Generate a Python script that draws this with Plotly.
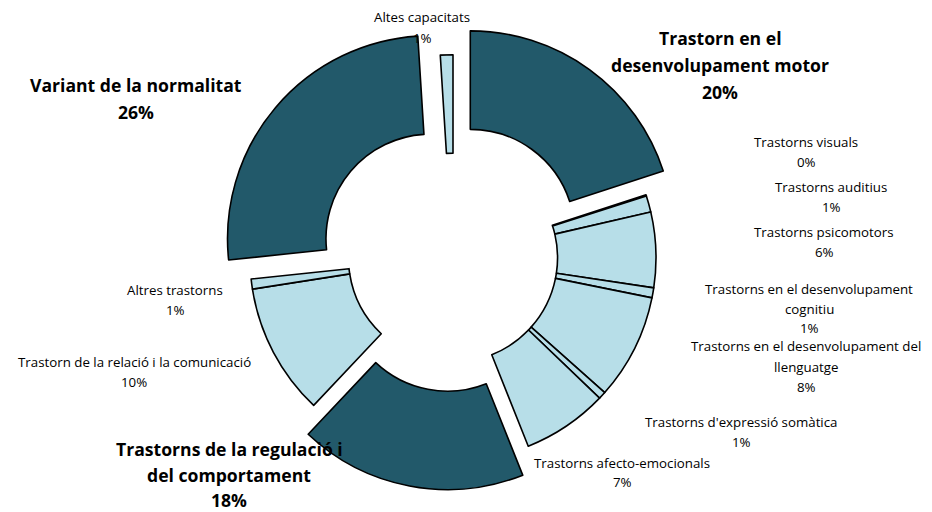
import plotly.graph_objects as go

# ---- data ----
labels = [
    "Trastorn en el desenvolupament motor",
    "Trastorns visuals",
    "Trastorns auditius",
    "Trastorns psicomotors",
    "Trastorns en el desenvolupament cognitiu",
    "Trastorns en el desenvolupament del llenguatge",
    "Trastorns d'expressió somàtica",
    "Trastorns afecto-emocionals",
    "Trastorns de la regulació i del comportament",
    "Trastorn de la relació i la comunicació",
    "Altres trastorns",
    "Variant de la normalitat",
    "Altes capacitats",
]
values = [20.0, 0.1, 1.3, 6.0, 0.8, 8.4, 0.6, 6.8, 18.1, 10.5, 0.8, 25.7, 1.0]
highlight = [True, False, False, False, False, False, False, False, True, False, False, True, False]

# label text lines (as wrapped in the reference)
label_lines = [
    ["Trastorn en el", "desenvolupament motor"],
    ["Trastorns visuals"],
    ["Trastorns auditius"],
    ["Trastorns psicomotors"],
    ["Trastorns en el desenvolupament", "cognitiu"],
    ["Trastorns en el desenvolupament del", "llenguatge"],
    ["Trastorns d'expressió somàtica"],
    ["Trastorns afecto-emocionals"],
    ["Trastorns de la regulació i", "del comportament"],
    ["Trastorn de la relació i la comunicació"],
    ["Altres trastorns"],
    ["Variant de la normalitat"],
    ["Altes capacitats"],
]

W, H = 932, 512
OFF = 8  # page body margin
DARK = "#22596A"
LIGHT = "#B7DEE8"

colors = [DARK if h else LIGHT for h in highlight]
pulls = [0.145 if h else 0.0 for h in highlight]

# pie centre / radius in page pixels (reference): (453, 257.7), R=203
cxp, cyp, R, mp = 453 - OFF, 257.7 - OFF, 203, 0.145
half = R * (1 + mp)
dom_x = [(cxp - half) / W, (cxp + half) / W]
dom_y = [1 - (cyp + half) / H, 1 - (cyp - half) / H]

fig = go.Figure(go.Pie(
    labels=labels,
    values=values,
    sort=False,
    direction="clockwise",
    rotation=0,
    hole=0.515,
    pull=pulls,
    marker=dict(colors=colors, line=dict(color="#000000", width=1.6)),
    textinfo="none",
    hoverinfo="label+percent",
    showlegend=False,
    domain=dict(x=dom_x, y=dom_y),
))

# label placement in page px: (center x, first line y, line spacing)
label_pos = [
    (720, 38, 27),
    (806, 142, 20),
    (831, 187, 20),
    (824, 232, 20),
    (809, 289, 19.5),
    (806, 346, 20.5),
    (741, 422, 20),
    (622, 463, 18.5),
    (229, 449, 25.5),
    (134, 362, 20),
    (175, 290, 20),
    (136, 85, 27),
    (422, 17, 21),
]

total = sum(values)
for i, lines in enumerate(label_lines):
    cx, y0, dy = label_pos[i]
    pct = "%d%%" % round(values[i] / total * 100)
    all_lines = lines + [pct]
    bold = highlight[i]
    for k, txt in enumerate(all_lines):
        y = y0 + k * dy - OFF
        fig.add_annotation(
            x=(cx - OFF) / W, y=1 - y / H, xref="paper", yref="paper",
            text=("<b>%s</b>" % txt) if bold else txt,
            showarrow=False, xanchor="center", yanchor="middle",
            font=dict(family="Open Sans", size=17.6 if bold else 13.3, color="#000000"),
        )

fig.update_layout(
    width=W, height=H,
    margin=dict(l=0, r=0, t=0, b=0),
    paper_bgcolor="#FFFFFF",
    plot_bgcolor="#FFFFFF",
)

fig.write_html("out.html")
